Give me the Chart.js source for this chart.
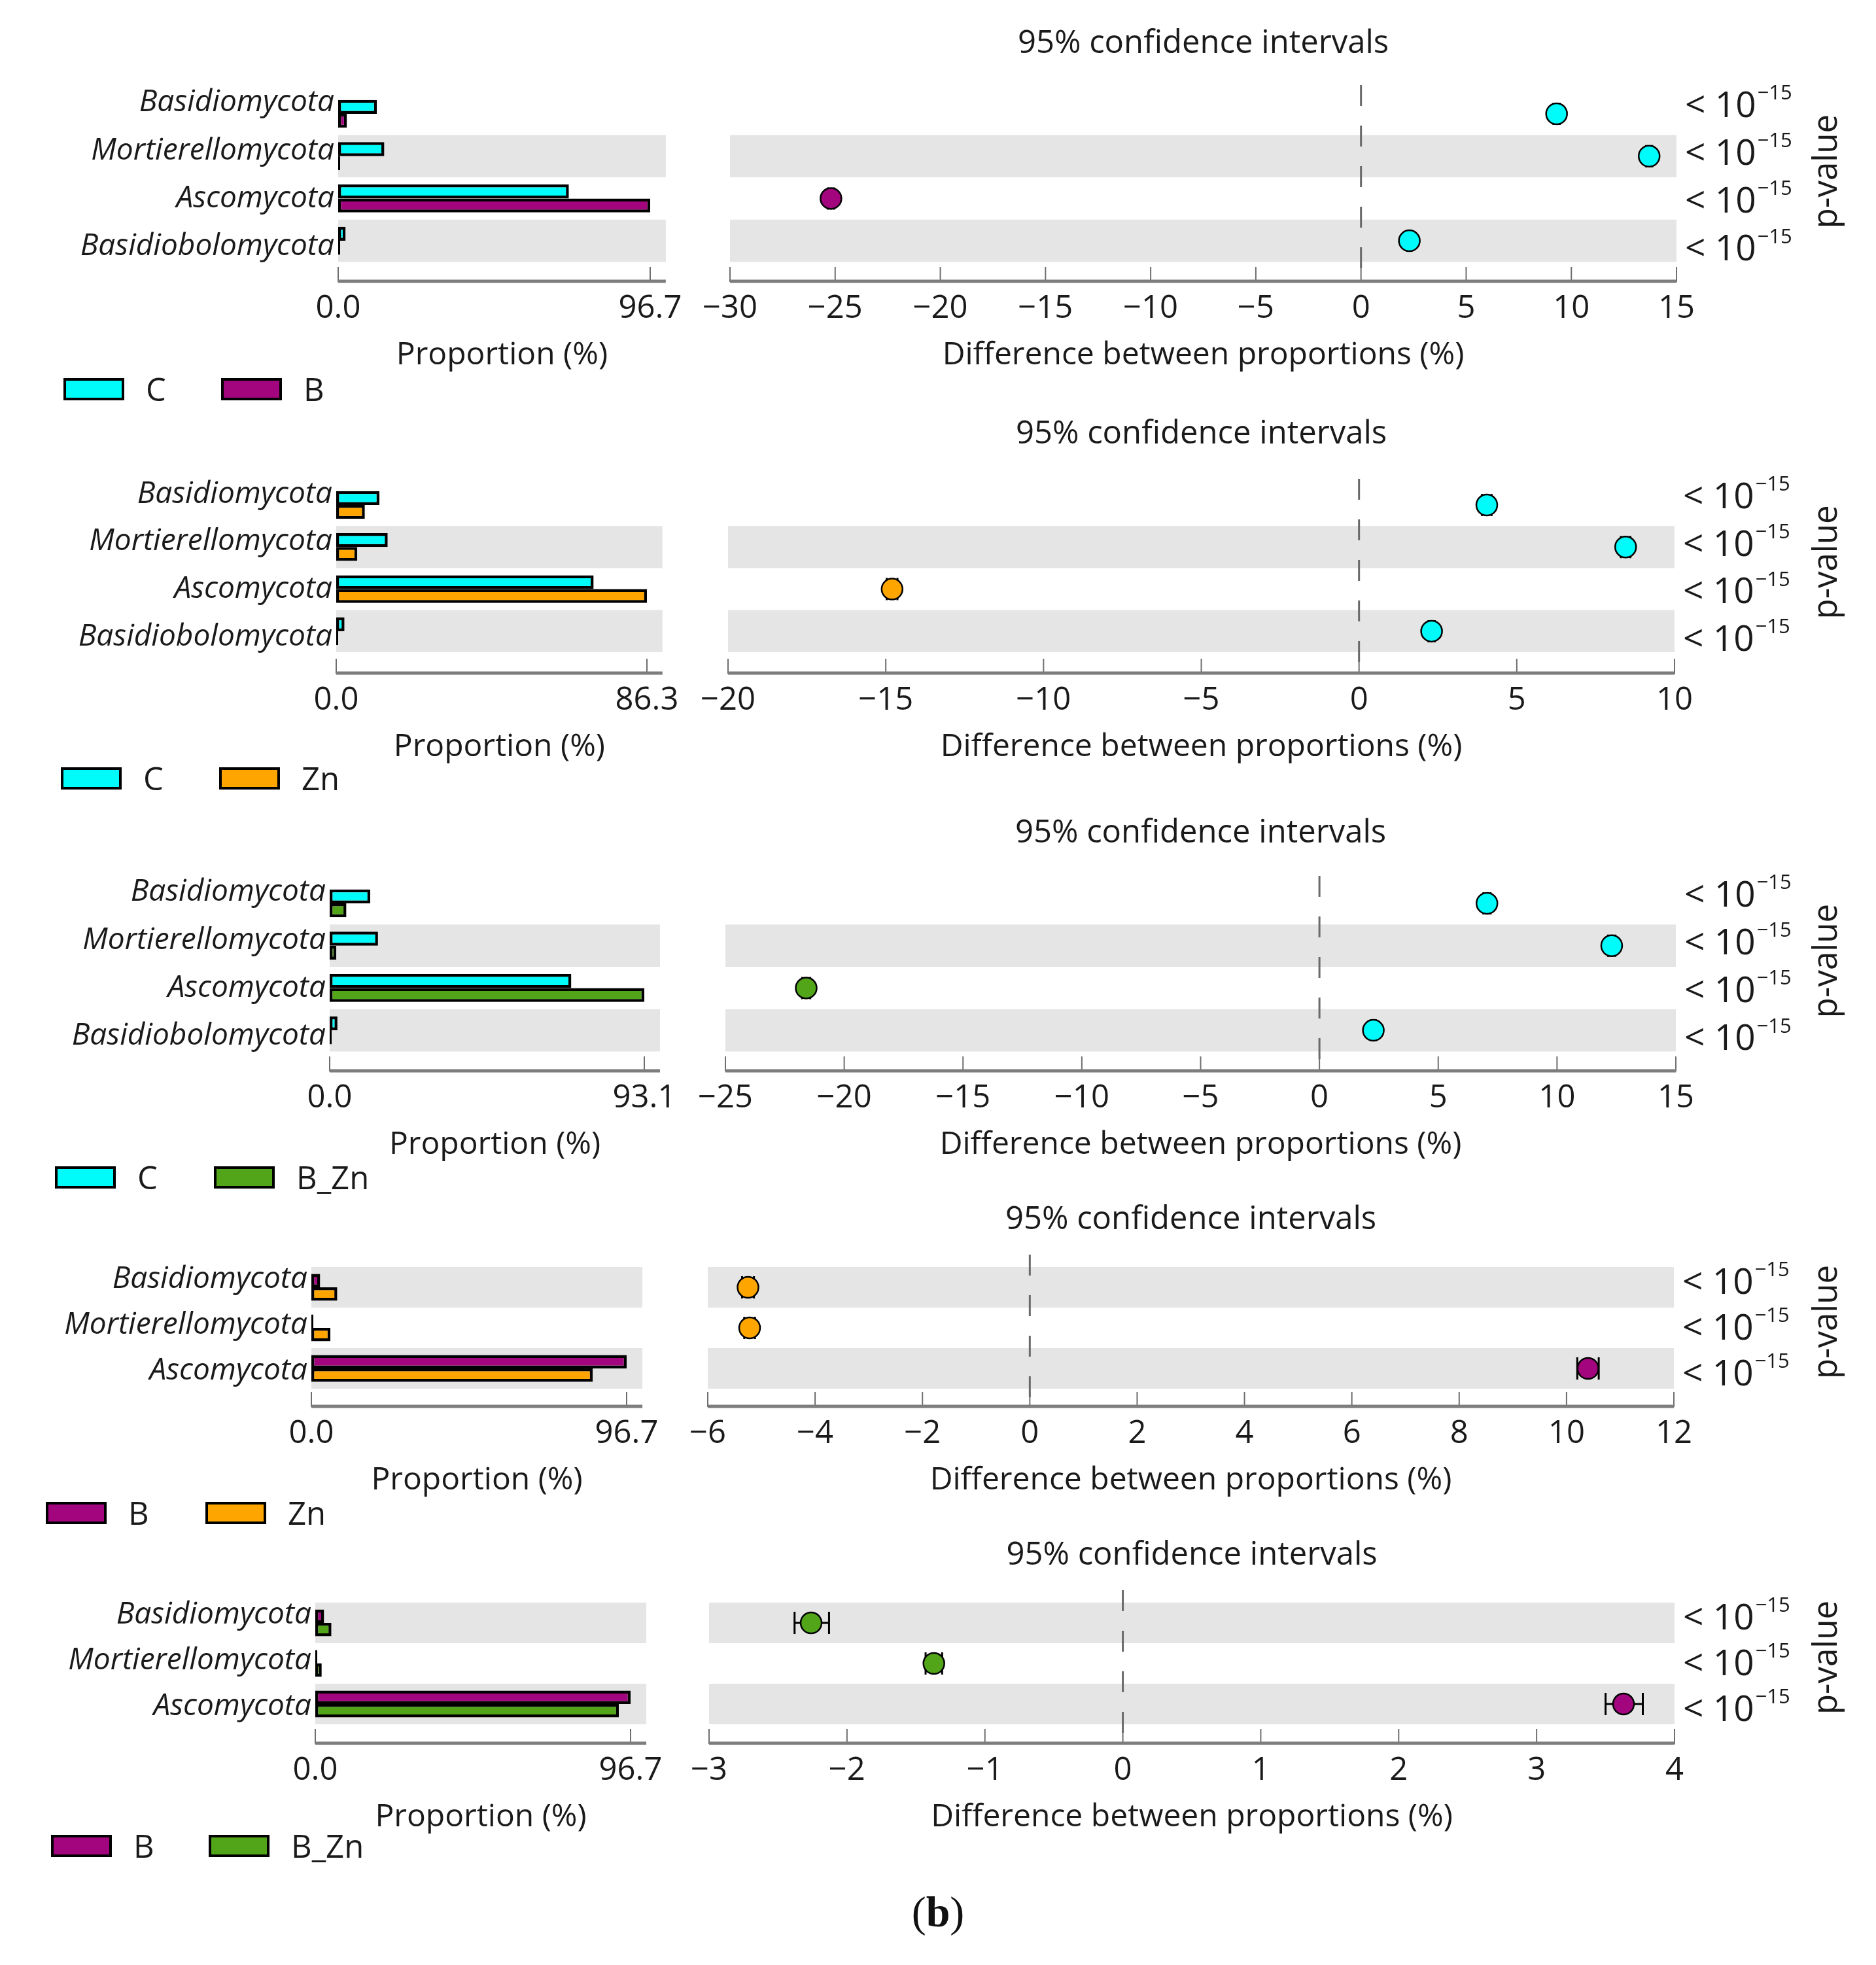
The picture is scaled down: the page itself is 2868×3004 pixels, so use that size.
<!DOCTYPE html>
<html><head><meta charset="utf-8">
<script src="https://cdn.jsdelivr.net/npm/chart.js@4.4.1/dist/chart.umd.min.js"></script>
<style>
html,body{margin:0;padding:0;background:#fff;}
#wrap{position:relative;width:2868px;height:3004px;overflow:hidden;background:#fff;font-family:'Open Sans',sans-serif;color:#1a1a1a;}
#wrap canvas{position:absolute;}
.lbox{position:absolute;width:93px;height:34px;border:4px solid #000;box-sizing:border-box;}
.ltxt{position:absolute;font-size:49px;line-height:60px;height:60px;}
#figlab{position:absolute;left:0;width:2868px;text-align:center;font-family:'Liberation Serif','Times New Roman',serif;font-size:66px;line-height:80px;top:2883px;color:#111;}
</style></head><body><div id="wrap"></div>
<script>
// ---------------- data ----------------
const phyla4 = ['Basidiomycota', 'Mortierellomycota', 'Ascomycota', 'Basidiobolomycota'];
const phyla3 = ['Basidiomycota', 'Mortierellomycota', 'Ascomycota'];

// Panel 1: C vs B
const p1_C = [12.0, 14.3, 71.5, 2.3];
const p1_B = [2.7, 0.6, 96.7, 0.02];
const p1_diff = [9.3, 13.7, -25.2, 2.3];
const p1_ciLow = [9.15, 13.55, -25.35, 2.2];
const p1_ciHigh = [9.45, 13.85, -25.05, 2.4];
const p1_propTicks = [0, 96.7];
const p1_diffTicks = [-30, -25, -20, -15, -10, -5, 0, 5, 10, 15];

// Panel 2: C vs Zn
const p2_C = [12.0, 14.3, 71.5, 2.3];
const p2_Zn = [7.95, 5.85, 86.3, 0.02];
const p2_diff = [4.05, 8.45, -14.8, 2.3];
const p2_ciLow = [3.9, 8.3, -14.97, 2.2];
const p2_ciHigh = [4.2, 8.6, -14.63, 2.4];
const p2_propTicks = [0, 86.3];
const p2_diffTicks = [-20, -15, -10, -5, 0, 5, 10];

// Panel 3: C vs B_Zn
const p3_C = [12.0, 14.3, 71.5, 2.3];
const p3_BZn = [4.95, 1.97, 93.1, 0.03];
const p3_diff = [7.05, 12.3, -21.6, 2.27];
const p3_ciLow = [6.9, 12.15, -21.77, 2.17];
const p3_ciHigh = [7.2, 12.45, -21.43, 2.37];
const p3_propTicks = [0, 93.1];
const p3_diffTicks = [-25, -20, -15, -10, -5, 0, 5, 10, 15];

// Panel 4: B vs Zn
const p4_B = [2.7, 0.6, 96.7];
const p4_Zn = [7.95, 5.85, 86.3];
const p4_diff = [-5.25, -5.22, 10.4];
const p4_ciLow = [-5.36, -5.32, 10.2];
const p4_ciHigh = [-5.14, -5.12, 10.6];
const p4_propTicks = [0, 96.7];
const p4_diffTicks = [-6, -4, -2, 0, 2, 4, 6, 8, 10, 12];

// Panel 5: B vs B_Zn
const p5_B = [2.7, 0.6, 96.7];
const p5_BZn = [4.95, 1.97, 93.1];
const p5_diff = [-2.26, -1.37, 3.63];
const p5_ciLow = [-2.38, -1.43, 3.5];
const p5_ciHigh = [-2.13, -1.31, 3.77];
const p5_propTicks = [0, 96.7];
const p5_diffTicks = [-3, -2, -1, 0, 1, 2, 3, 4];

const pValueText = '< 10';
const pValueExp = '\u221215';

// ---------------- styles / layout ----------------
const groupColors = { C: '#00fbfb', B: '#a3057f', Zn: '#ffa500', B_Zn: '#52a519' };
const FF = "'Open Sans', sans-serif";
const TXT = '#1a1a1a';
const BAND = '#e5e5e5';

const panels = [
  { cats: phyla4, g1: 'C', g2: 'B', v1: p1_C, v2: p1_B, diff: p1_diff, lo: p1_ciLow, hi: p1_ciHigh, propTicks: p1_propTicks, diffTicks: p1_diffTicks },
  { cats: phyla4, g1: 'C', g2: 'Zn', v1: p2_C, v2: p2_Zn, diff: p2_diff, lo: p2_ciLow, hi: p2_ciHigh, propTicks: p2_propTicks, diffTicks: p2_diffTicks },
  { cats: phyla4, g1: 'C', g2: 'B_Zn', v1: p3_C, v2: p3_BZn, diff: p3_diff, lo: p3_ciLow, hi: p3_ciHigh, propTicks: p3_propTicks, diffTicks: p3_diffTicks },
  { cats: phyla3, g1: 'B', g2: 'Zn', v1: p4_B, v2: p4_Zn, diff: p4_diff, lo: p4_ciLow, hi: p4_ciHigh, propTicks: p4_propTicks, diffTicks: p4_diffTicks },
  { cats: phyla3, g1: 'B', g2: 'B_Zn', v1: p5_B, v2: p5_BZn, diff: p5_diff, lo: p5_ciLow, hi: p5_ciHigh, propTicks: p5_propTicks, diffTicks: p5_diffTicks }
];

const layouts = [
  { titleY: 67,   plotTop: 130,  row0: 174,  rowH: 64.7, axisY: 431,  L0: 517, Lmax: 994, Rl: 1116, Rr: 2563, legY: 595,  legX1: 97, legX2: 338 },
  { titleY: 664,  plotTop: 732,  row0: 772,  rowH: 64.3, axisY: 1030, L0: 514, Lmax: 989, Rl: 1113, Rr: 2560, legY: 1190, legX1: 93, legX2: 335 },
  { titleY: 1274, plotTop: 1339, row0: 1381, rowH: 64.7, axisY: 1638, L0: 504, Lmax: 985, Rl: 1109, Rr: 2562, legY: 1800, legX1: 84, legX2: 327 },
  { titleY: 1865, plotTop: 1918, row0: 1968, rowH: 62,   axisY: 2151, L0: 476, Lmax: 958, Rl: 1082, Rr: 2559, legY: 2313, legX1: 70, legX2: 314 },
  { titleY: 2378, plotTop: 2431, row0: 2481, rowH: 62,   axisY: 2666, L0: 482, Lmax: 964, Rl: 1084, Rr: 2560, legY: 2822, legX1: 78, legX2: 319 }
];

const XH = 150;          // x-axis box height
const TOPPAD = 60;       // top padding for left charts
const TICK_FONT = { family: FF, size: 49 };
const TITLE_FONT = { family: FF, size: 48 };
const LABEL_SPREAD = 1.13;   // spacing of row labels relative to row spacing

Chart.defaults.font.family = FF;
Chart.defaults.color = TXT;

const wrap = document.getElementById('wrap');

function fmtMinus(v) { return v < 0 ? '\u2212' + String(-v) : String(v); }
function labelPos(i, N, shiftRows) { const mid = (N - 1) / 2; return mid + (i - mid) * LABEL_SPREAD + shiftRows; }

function bandsPlugin(N) {
  return {
    id: 'bands',
    beforeDatasetsDraw(chart) {
      const { ctx, chartArea, scales: { y } } = chart;
      ctx.save();
      ctx.fillStyle = BAND;
      for (let i = 0; i < N; i++) {
        if ((N - 1 - i) % 2 !== 0) continue;
        const t = y.getPixelForValue(i - 0.5), b = y.getPixelForValue(i + 0.5);
        ctx.fillRect(chartArea.left, t, chartArea.right - chartArea.left, b - t);
      }
      ctx.restore();
    }
  };
}

const axisPlugin = {
  id: 'axisline',
  afterDatasetsDraw(chart) {
    const { ctx, chartArea, scales: { x } } = chart;
    ctx.save();
    ctx.strokeStyle = '#6e6e6e';
    ctx.lineWidth = 2;
    x.ticks.forEach(t => {
      const px = x.getPixelForValue(t.value);
      ctx.beginPath(); ctx.moveTo(px, chartArea.bottom); ctx.lineTo(px, chartArea.bottom - 23); ctx.stroke();
    });
    ctx.strokeStyle = '#7d7d7d';
    ctx.lineWidth = 5;
    ctx.beginPath(); ctx.moveTo(chartArea.left, chartArea.bottom - 1); ctx.lineTo(chartArea.right, chartArea.bottom - 1); ctx.stroke();
    ctx.restore();
  }
};

function makeLeft(p, L) {
  const N = p.cats.length;
  const yMin = -(L.row0 - L.plotTop) / L.rowH;
  const yMax = (L.axisY - L.row0) / L.rowH;
  const propMax = p.propTicks[p.propTicks.length - 1];
  const Lend = L.L0 + (L.Lmax - L.L0) * 1.05;
  const padR = 70;
  const w = Math.round(Lend + padR);
  const top = L.plotTop - TOPPAD;
  const h = Math.round(L.axisY + XH - top);
  const cv = document.createElement('canvas');
  cv.width = w; cv.height = h;
  cv.style.left = '0px'; cv.style.top = top + 'px';
  wrap.appendChild(cv);
  const shift = -4 / L.rowH;
  new Chart(cv, {
    type: 'bar',
    data: {
      datasets: [
        { label: p.g1, data: p.v1.map((v, i) => ({ x: v, y: i })), backgroundColor: groupColors[p.g1], borderColor: '#000', borderWidth: 4.5, borderSkipped: false, minBarLength: 3 },
        { label: p.g2, data: p.v2.map((v, i) => ({ x: v, y: i })), backgroundColor: groupColors[p.g2], borderColor: '#000', borderWidth: 4.5, borderSkipped: false, minBarLength: 3 }
      ]
    },
    options: {
      indexAxis: 'y', responsive: false, animation: false, devicePixelRatio: 1, events: [],
      layout: { padding: { left: 0, right: w - Lend, top: TOPPAD, bottom: 0 } },
      datasets: { bar: { categoryPercentage: 0.66, barPercentage: 1 } },
      plugins: { legend: { display: false }, tooltip: { enabled: false } },
      scales: {
        x: {
          type: 'linear', position: 'bottom', min: 0, max: propMax * 1.05, offset: false,
          afterBuildTicks: s => { s.ticks = p.propTicks.map(v => ({ value: v })); },
          ticks: { callback: v => Number(v).toFixed(1), font: TICK_FONT, color: TXT, padding: 12, maxRotation: 0, autoSkip: false },
          grid: { display: false, drawTicks: false, offset: false }, border: { display: false },
          title: { display: true, text: 'Proportion (%)', font: TITLE_FONT, color: TXT, padding: { top: 0, bottom: 9 } },
          afterFit: s => { s.height = XH; }
        },
        y: {
          type: 'linear', position: 'left', reverse: true, min: yMin, max: yMax, offset: false,
          afterBuildTicks: s => { s.ticks = p.cats.map((c, i) => ({ value: labelPos(i, N, shift) })); },
          ticks: { callback: (v, idx) => p.cats[idx], font: { family: FF, size: 46, style: 'italic' }, color: TXT, padding: 6, autoSkip: false },
          grid: { display: false, drawTicks: false, offset: false }, border: { display: false },
          afterFit: s => { s.width = L.L0; }
        }
      }
    },
    plugins: [bandsPlugin(N), axisPlugin]
  });
}

function makeRight(p, L) {
  const N = p.cats.length;
  const yMin = -(L.row0 - L.plotTop) / L.rowH;
  const yMax = (L.axisY - L.row0) / L.rowH;
  const tFont = 49, tLH = tFont * 1.2;
  const left = L.Rl - 60;
  const top = Math.round(L.titleY - tLH / 2);
  const w = 2868 - left;
  const h = Math.round(L.axisY + XH - top);
  const cv = document.createElement('canvas');
  cv.width = w; cv.height = h;
  cv.style.left = left + 'px'; cv.style.top = top + 'px';
  wrap.appendChild(cv);
  const c1 = groupColors[p.g1], c2 = groupColors[p.g2];
  const overlay = {
    id: 'overlay',
    beforeDatasetsDraw(chart) {
      const { ctx, chartArea, scales: { x, y } } = chart;
      ctx.save();
      const x0 = x.getPixelForValue(0);
      ctx.strokeStyle = '#6a6a6a'; ctx.lineWidth = 3; ctx.setLineDash([32, 30]);
      ctx.beginPath(); ctx.moveTo(x0, chartArea.top); ctx.lineTo(x0, chartArea.bottom); ctx.stroke();
      ctx.setLineDash([]);
      ctx.strokeStyle = '#000'; ctx.lineWidth = 3;
      for (let i = 0; i < N; i++) {
        const yy = y.getPixelForValue(i);
        const a = x.getPixelForValue(p.lo[i]), b = x.getPixelForValue(p.hi[i]);
        ctx.beginPath();
        ctx.moveTo(a, yy); ctx.lineTo(b, yy);
        ctx.moveTo(a, yy - 17); ctx.lineTo(a, yy + 17);
        ctx.moveTo(b, yy - 17); ctx.lineTo(b, yy + 17);
        ctx.stroke();
      }
      ctx.restore();
    },
    afterDraw(chart) {
      const { ctx, chartArea, scales: { y } } = chart;
      ctx.save();
      ctx.fillStyle = TXT;
      ctx.textBaseline = 'middle';
      ctx.textAlign = 'left';
      const mid = (N - 1) / 2;
      for (let i = 0; i < N; i++) {
        const yy = y.getPixelForValue(labelPos(i, N, 0)) + 2;
        const xx = chartArea.right + 13;
        ctx.font = `55px ${FF}`;
        ctx.fillText(pValueText, xx, yy);
        const tw = ctx.measureText(pValueText).width;
        ctx.font = `31px ${FF}`;
        ctx.fillText(pValueExp, xx + tw + 2, yy - 20);
      }
      ctx.font = `51px ${FF}`;
      ctx.textAlign = 'center';
      ctx.translate(2793 - left, y.getPixelForValue(mid) - 9);
      ctx.rotate(-Math.PI / 2);
      ctx.fillText('p-value', 0, 0);
      ctx.restore();
    }
  };
  new Chart(cv, {
    type: 'scatter',
    data: {
      datasets: [{
        data: p.diff.map((d, i) => ({ x: d, y: i })),
        pointRadius: 16, pointHoverRadius: 16,
        pointBackgroundColor: p.diff.map(d => d > 0 ? c1 : c2),
        pointBorderColor: '#000', pointBorderWidth: 2.5
      }]
    },
    options: {
      responsive: false, animation: false, devicePixelRatio: 1, events: [],
      layout: { padding: { left: 60, right: 2868 - L.Rr, top: 0, bottom: 0 } },
      plugins: {
        legend: { display: false }, tooltip: { enabled: false },
        title: { display: true, text: '95% confidence intervals', fullSize: false, font: { family: FF, size: tFont, weight: 'normal' }, color: TXT,
                 padding: { top: 0, bottom: L.plotTop - top - tLH } }
      },
      scales: {
        x: {
          type: 'linear', position: 'bottom', min: p.diffTicks[0], max: p.diffTicks[p.diffTicks.length - 1], offset: false,
          afterBuildTicks: s => { s.ticks = p.diffTicks.map(v => ({ value: v })); },
          ticks: { callback: v => fmtMinus(v), font: TICK_FONT, color: TXT, padding: 12, maxRotation: 0, autoSkip: false },
          grid: { display: false, drawTicks: false }, border: { display: false },
          title: { display: true, text: 'Difference between proportions (%)', font: TITLE_FONT, color: TXT, padding: { top: 0, bottom: 9 } },
          afterFit: s => { s.height = XH; }
        },
        y: { type: 'linear', display: false, reverse: true, min: yMin, max: yMax, offset: false }
      }
    },
    plugins: [bandsPlugin(N), overlay, axisPlugin]
  });
}

function makeLegend(p, L) {
  const items = [[p.g1, L.legX1], [p.g2, L.legX2]];
  items.forEach(([g, x]) => {
    const b = document.createElement('div');
    b.className = 'lbox';
    b.style.left = x + 'px'; b.style.top = (L.legY - 17) + 'px'; b.style.background = groupColors[g];
    wrap.appendChild(b);
    const t = document.createElement('div');
    t.className = 'ltxt';
    t.textContent = g;
    t.style.left = (x + 93 + 33) + 'px'; t.style.top = (L.legY - 31) + 'px';
    wrap.appendChild(t);
  });
}

panels.forEach((p, k) => {
  makeLeft(p, layouts[k]);
  makeRight(p, layouts[k]);
  makeLegend(p, layouts[k]);
});

const fl = document.createElement('div');
fl.id = 'figlab';
fl.innerHTML = '(<b>b</b>)';
wrap.appendChild(fl);
</script>
</body></html>
